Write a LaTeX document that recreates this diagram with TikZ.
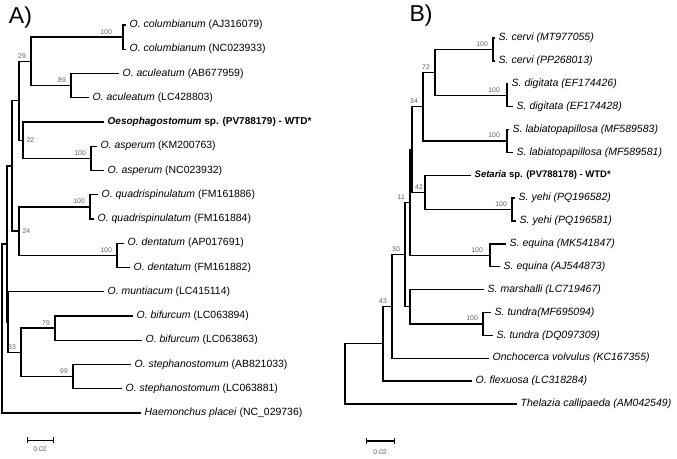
\documentclass[tikz,border=0pt]{standalone}
\usepackage{fontspec}
\setmainfont{Liberation Sans}

\definecolor{bootgray}{RGB}{95,95,95}

\tikzset{
	branch/.style={line width=1.35pt},
	tip/.style={anchor=west, inner xsep=3.5pt, inner ysep=0pt, font=\fontsize{10.45}{12}\selectfont},
	tipB/.style={tip, font=\fontsize{10.5}{12}\selectfont\itshape},
	tipbold/.style={tip, font=\fontsize{10}{12}\selectfont\bfseries},
	bootbase/.style={inner sep=0pt, text=bootgray, font=\fontsize{6.8}{8}\selectfont},
	boot/.style={bootbase, anchor=south east, xshift=-5pt, yshift=2.8pt},
	bootright/.style={bootbase, anchor=west, xshift=3.5pt},
	panel/.style={inner sep=0pt, font=\fontsize{23}{26}\selectfont},
	scalebar/.style={line width=0.9pt},
	scalelab/.style={inner sep=0pt, text=bootgray, font=\fontsize{6.8}{8}\selectfont}
}

\begin{document}
\begin{tikzpicture}[x=1pt,y=-1pt]

	\useasboundingbox (0,0) rectangle (677,458);

	% panel labels
	\node[panel] (pA) at (20.5,18) {A)};
	\node[panel] (pB) at (421,16) {B)};

	%%%%%%%% A) Oesophagostomum

	% tips
	\node[tip] (t1)  at (126,25)     {\textit{O. columbianum} (AJ316079)};
	\node[tip] (t2)  at (126,49.25)  {\textit{O. columbianum} (NC023933)};
	\node[tip] (t3)  at (119,73.5)   {\textit{O. aculeatum} (AB677959)};
	\node[tip] (t4)  at (89,97.75)   {\textit{O. aculeatum} (LC428803)};
	\node[tipbold] (t5) at (104,122) {\textit{Oesophagostomum} sp. (PV788179) - WTD*};
	\node[tip] (t6)  at (97,146.25)  {\textit{O. asperum} (KM200763)};
	\node[tip] (t7)  at (104,170.5)  {\textit{O. asperum} (NC023932)};
	\node[tip] (t8)  at (98,194.75)  {\textit{O. quadrispinulatum} (FM161886)};
	\node[tip] (t9)  at (94,219)     {\textit{O. quadrispinulatum} (FM161884)};
	\node[tip] (t10) at (124,243.25) {\textit{O. dentatum} (AP017691)};
	\node[tip] (t11) at (130,267.5)  {\textit{O. dentatum} (FM161882)};
	\node[tip] (t12) at (104,291.75) {\textit{O. muntiacum} (LC415114)};
	\node[tip] (t13) at (133,316)    {\textit{O. bifurcum} (LC063894)};
	\node[tip] (t14) at (142,340.25) {\textit{O. bifurcum} (LC063863)};
	\node[tip] (t15) at (131,364.5)  {\textit{O. stephanostomum} (AB821033)};
	\node[tip] (t16) at (122,388.75) {\textit{O. stephanostomum} (LC063881)};
	\node[tip] (t17) at (141,413)    {\textit{Haemonchus placei} (NC\_029736)};

	% inner nodes
	\coordinate (colP) at (123,37.1);
	\coordinate (acuP) at (71,85.6);
	\coordinate (n29)  at (31,61.4);
	\coordinate (aspP) at (91,158.4);
	\coordinate (n22)  at (23,140.2);
	\coordinate (nC)   at (19,100.8);
	\coordinate (quaP) at (90,206.9);
	\coordinate (denP) at (117,255.4);
	\coordinate (n24)  at (19,231.1);
	\coordinate (nA)   at (12,166);
	\coordinate (bifP) at (55,328.1);
	\coordinate (steP) at (73,376.6);
	\coordinate (n33)  at (21,352.4);
	\coordinate (nB)   at (8,322);
	\coordinate (nO)   at (7,244);
	\coordinate (rootA) at (2,328.5);

	% branches
	\draw[branch] (colP) |- (t1.west) (colP) |- (t2.west);
	\draw[branch] (acuP) |- (t3.west) (acuP) |- (t4.west);
	\draw[branch] (n29) |- (colP) (n29) |- (acuP);
	\draw[branch] (aspP) |- (t6.west) (aspP) |- (t7.west);
	\draw[branch] (n22) |- (t5.west) (n22) |- (aspP);
	\draw[branch] (nC) |- (n29) (nC) |- (n22);
	\draw[branch] (quaP) |- (t8.west) (quaP) |- (t9.west);
	\draw[branch] (denP) |- (t10.west) (denP) |- (t11.west);
	\draw[branch] (n24) |- (quaP) (n24) |- (denP);
	\draw[branch] (nA) |- (nC) (nA) |- (n24);
	\draw[branch] (bifP) |- (t13.west) (bifP) |- (t14.west);
	\draw[branch] (steP) |- (t15.west) (steP) |- (t16.west);
	\draw[branch] (n33) |- (bifP) (n33) |- (steP);
	\draw[branch] (nB) |- (t12.west) (nB) |- (n33);
	\draw[branch] (nO) |- (nA) (nO) |- (nB);
	\draw[branch] (rootA) |- (nO) (rootA) |- (t17.west);

	% bootstrap values
	\node[boot, xshift=-6pt] (bcol) at (colP) {100};
	\node[boot] (bacu) at (acuP) {89};
	\node[boot] (b29)  at (n29)  {29};
	\node[bootright] (b22) at (n22) {22};
	\node[boot] (basp) at (aspP) {100};
	\node[boot] (bqua) at (quaP) {100};
	\node[bootright] (b24) at (n24) {24};
	\node[boot] (bden) at (denP) {100};
	\node[boot] (bbif) at (bifP) {79};
	\node[boot] (bste) at (steP) {99};
	\node[boot] (b33)  at (n33)  {33};

	% scale bar
	\coordinate (sa1) at (27,440);
	\coordinate (sa2) at (53,440);
	\draw[scalebar] (sa1) -- (sa2);
	\draw[scalebar] (sa1) ++(0,-2.7) -- ++(0,5.4);
	\draw[scalebar] (sa2) ++(0,-2.7) -- ++(0,5.4);
	\node[scalelab] (la) at (40,449) {0.02};

	%%%%%%%% B) Setaria

	% tips
	\node[tipB] (s1)  at (495,38)      {S. cervi (MT977055)};
	\node[tipB] (s2)  at (495,60.875)  {S. cervi (PP268013)};
	\node[tipB] (s3)  at (508,83.75)   {S. digitata (EF174426)};
	\node[tipB] (s4)  at (513,106.625) {S. digitata (EF174428)};
	\node[tipB] (s5)  at (509,129.5)   {S. labiatopapillosa (MF589583)};
	\node[tipB] (s6)  at (513,152.375) {S. labiatopapillosa (MF589581)};
	\node[tipbold, font=\fontsize{9.5}{12}\selectfont\bfseries] (s7) at (471,175.25) {\textit{Setaria} sp. (PV788178) - WTD*};
	\node[tipB] (s8)  at (515,198.125) {S. yehi (PQ196582)};
	\node[tipB] (s9)  at (516,221)     {S. yehi (PQ196581)};
	\node[tipB] (s10) at (506,243.875) {S. equina (MK541847)};
	\node[tipB] (s11) at (500,266.75)  {S. equina (AJ544873)};
	\node[tipB] (s12) at (484,289.625) {S. marshalli (LC719467)};
	\node[tipB] (s13) at (491,312.5)   {S. tundra(MF695094)};
	\node[tipB] (s14) at (493,335.375) {S. tundra (DQ097309)};
	\node[tipB] (s15) at (489,358.25)  {Onchocerca volvulus (KC167355)};
	\node[tipB] (s16) at (472,381.125) {O. flexuosa (LC318284)};
	\node[tipB] (s17) at (517,404)     {Thelazia callipaeda (AM042549)};

	% inner nodes
	\coordinate (cerP) at (493,49.44);
	\coordinate (digP) at (507,95.19);
	\coordinate (n72)  at (435,72.3);
	\coordinate (labP) at (507,140.94);
	\coordinate (n34)  at (423,106.6);
	\coordinate (yehP) at (512,209.56);
	\coordinate (n42)  at (425,192.4);
	\coordinate (nX)   at (412,149.5);
	\coordinate (equP) at (490,255.31);
	\coordinate (n11)  at (410,202.4);
	\coordinate (tunP) at (483,323.94);
	\coordinate (nZ)   at (410,306.8);
	\coordinate (nY)   at (405,254.6);
	\coordinate (n30)  at (392,306.4);
	\coordinate (n43)  at (383,343.75);
	\coordinate (rootB) at (345,373.9);

	% branches
	\draw[branch] (cerP) |- (s1.west) (cerP) |- (s2.west);
	\draw[branch] (digP) |- (s3.west) (digP) |- (s4.west);
	\draw[branch] (n72) |- (cerP) (n72) |- (digP);
	\draw[branch] (labP) |- (s5.west) (labP) |- (s6.west);
	\draw[branch] (n34) |- (n72) (n34) |- (labP);
	\draw[branch] (yehP) |- (s8.west) (yehP) |- (s9.west);
	\draw[branch] (n42) |- (s7.west) (n42) |- (yehP);
	\draw[branch] (nX) |- (n34) (nX) |- (n42);
	\draw[branch] (equP) |- (s10.west) (equP) |- (s11.west);
	\draw[branch] (n11) |- (nX) (n11) |- (equP);
	\draw[branch] (tunP) |- (s13.west) (tunP) |- (s14.west);
	\draw[branch] (nZ) |- (s12.west) (nZ) |- (tunP);
	\draw[branch] (nY) |- (n11) (nY) |- (nZ);
	\draw[branch] (n30) |- (nY) (n30) |- (s15.west);
	\draw[branch] (n43) |- (n30) (n43) |- (s16.west);
	\draw[branch] (rootB) |- (n43) (rootB) |- (s17.west);

	% bootstrap values
	\node[boot] (bcer) at (cerP) {100};
	\node[boot] (b72)  at (n72)  {72};
	\node[boot, xshift=-2pt] (bdig) at (digP) {100};
	\node[boot] (b34)  at (n34)  {34};
	\node[boot, xshift=-2pt] (blab) at (labP) {100};
	\node[boot, xshift=3pt] (b42) at (n42) {42};
	\node[boot] (byeh) at (yehP) {100};
	\node[boot] (b11)  at (n11)  {11};
	\node[boot, xshift=-2pt] (bequ) at (equP) {100};
	\node[boot] (b30)  at (nY)   {30};
	\node[boot] (btun) at (tunP) {100};
	\node[boot] (b43)  at (n30)  {43};

	% scale bar
	\coordinate (sb1) at (366,441);
	\coordinate (sb2) at (394,441);
	\draw[scalebar, line width=1.5pt] (sb1) -- (sb2);
	\draw[scalebar] (sb1) ++(0,-3) -- ++(0,6);
	\draw[scalebar] (sb2) ++(0,-3) -- ++(0,6);
	\node[scalelab] (lb) at (380,452) {0.02};

\end{tikzpicture}
\end{document}
